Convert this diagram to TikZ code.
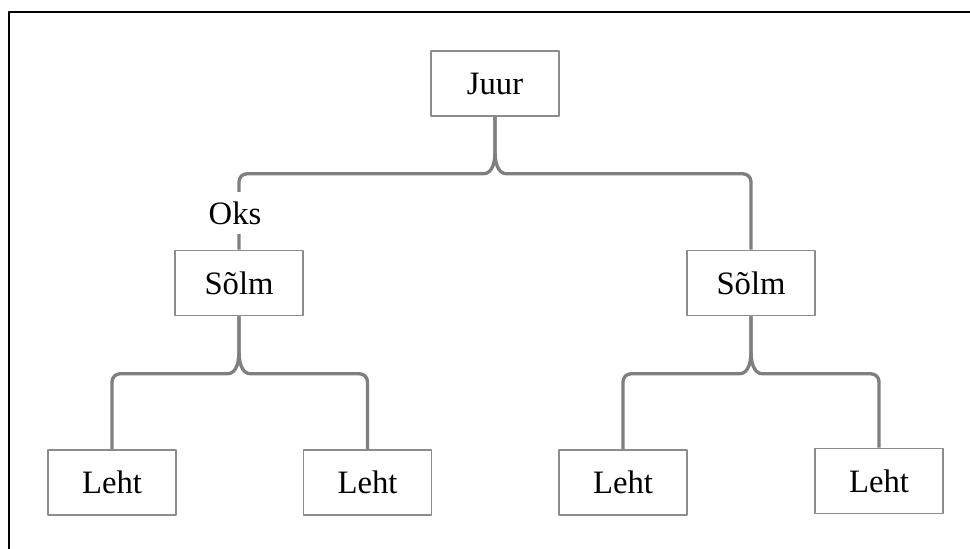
\documentclass[tikz,border=0pt]{standalone}
\usepackage{fontspec}
\setmainfont{Liberation Serif}
\definecolor{linegray}{RGB}{127,127,127}
\definecolor{boxgray}{RGB}{140,140,140}

\tikzset{
  box/.style={draw=boxgray, line width=1.2pt, minimum width=96pt, minimum height=48.75pt, inner sep=0pt, font=\fontsize{24.5}{29}\selectfont},
  brace/.style={draw=linegray, line width=2.5pt},
  edgelabel/.style={fill=white, inner xsep=2pt, inner ysep=7pt, font=\fontsize{24.5}{29}\selectfont}
}

\begin{document}
\begin{tikzpicture}[line join=round,x=0.75pt,y=0.75pt]
\useasboundingbox (0,0) rectangle (970,549);
\draw [line width=1.5pt] (9,0)--(9,537)--(970,537);
\node [box] (juur) at (495,465.5) {Juur};
\node [box] (solmA) at (239,266) {Sõlm};
\node [box] (solmB) at (751,266) {Sõlm};
\node [box] (lehtA) at (112,66.5) {Leht};
\node [box] (lehtB) at (367.5,66.5) {Leht};
\node [box] (lehtC) at (623,66.5) {Leht};
\node [box] (lehtD) at (879,68) {Leht};
% juur -> solm
\draw [brace] (juur.south) -- ++(0,-34) to[out=-90,in=0] ++(-12,-23) [rounded corners=6pt] -| (solmA.north);
\draw [brace] (juur.south) -- ++(0,-34) to[out=-90,in=180] ++(12,-23) [rounded corners=6pt] -| (solmB.north);
% solm -> leht
\draw [brace] (solmA.south) -- ++(0,-34) to[out=-90,in=0] ++(-12,-23.5) [rounded corners=6pt] -| (lehtA.north);
\draw [brace] (solmA.south) -- ++(0,-34) to[out=-90,in=180] ++(12,-23.5) [rounded corners=6pt] -| (lehtB.north);
\draw [brace] (solmB.south) -- ++(0,-34) to[out=-90,in=0] ++(-12,-23.5) [rounded corners=6pt] -| (lehtC.north);
\draw [brace] (solmB.south) -- ++(0,-34) to[out=-90,in=180] ++(12,-23.5) [rounded corners=6pt] -| (lehtD.north);
\node [edgelabel] (oks) at (235,336) {Oks};
\end{tikzpicture}
\end{document}
